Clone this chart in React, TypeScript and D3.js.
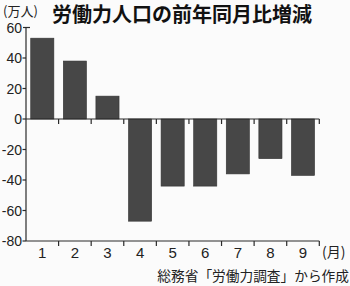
import React from "react";
import * as d3 from "d3";

const months = ["1", "2", "3", "4", "5", "6", "7", "8", "9"];
const values = [53, 38, 15, -67, -44, -44, -36, -26, -37];
const yTicks = [60, 40, 20, 0, -20, -40, -60, -80];
const title = "労働力人口の前年同月比増減";
const unitLabel = "(万人)";
const monthUnit = "(月)";
const source = "総務省「労働力調査」から作成";

const W = 350;
const H = 286;

export default function App() {
  const x = d3.scaleBand<string>().domain(months).range([26, 319.3]).paddingInner(0.29).paddingOuter(0.145);
  const y = d3.scaleLinear().domain([-80, 60]).range([241, 27.5]);
  const step = x.step();
  const x0 = 26;
  const boundaries = d3.range(1, months.length + 1).map((k) => x0 + k * step);
  const numFont = "'Liberation Sans', Arial, sans-serif";
  const jpFont = "'Noto Sans CJK JP', sans-serif";
  const axisColor = "#2a2a2a";
  return (
    <svg width={W} height={H} style={{ position: "absolute", left: 0, top: 0, background: "#fbfbfb" }}>
      <rect x={0} y={0} width={W} height={H} fill="#fbfbfb" />
      {/* title */}
      <text x={3} y={16} fontFamily={jpFont} fontSize={13} fill="#222">{unitLabel}</text>
      <text x={52} y={21.5} fontFamily={jpFont} fontSize={20} fontWeight={700} fill="#111">{title}</text>
      {/* bars */}
      {values.map((v, i) => (
        <rect
          key={i}
          x={x(months[i])}
          y={Math.min(y(v), y(0))}
          width={x.bandwidth()}
          height={Math.abs(y(v) - y(0))}
          fill="#474747"
          stroke="#333"
          strokeWidth={0.6}
        />
      ))}
      {/* y axis */}
      <line x1={26} x2={26} y1={y(60)} y2={y(-80)} stroke={axisColor} strokeWidth={1.2} />
      <line x1={23} x2={30} y1={y(60)} y2={y(60)} stroke={axisColor} strokeWidth={1.2} />
      {yTicks.map((t) => (
        <g key={t}>
          {t !== 60 && <line x1={22.5} x2={26} y1={y(t)} y2={y(t)} stroke={axisColor} strokeWidth={1.2} />}
          <text x={22} y={y(t) + 5} textAnchor="end" fontFamily={numFont} fontSize={14} fill="#222">
            {t}
          </text>
        </g>
      ))}
      {/* zero line */}
      <line x1={26} x2={319.3} y1={y(0)} y2={y(0)} stroke={axisColor} strokeWidth={1.2} />
      {boundaries.map((bx, i) => (
        <line key={"z" + i} x1={bx} x2={bx} y1={y(0)} y2={y(0) + 5} stroke={axisColor} strokeWidth={1.2} />
      ))}
      {/* bottom axis */}
      <line x1={26} x2={319.3} y1={y(-80)} y2={y(-80)} stroke={axisColor} strokeWidth={1.2} />
      {boundaries.map((bx, i) => (
        <line key={"b" + i} x1={bx} x2={bx} y1={y(-80)} y2={y(-80) + 5} stroke={axisColor} strokeWidth={1.2} />
      ))}
      {months.map((m) => (
        <text key={m} x={(x(m) as number) + x.bandwidth() / 2} y={258} textAnchor="middle" fontFamily={numFont} fontSize={15} fill="#222">
          {m}
        </text>
      ))}
      <text x={322} y={257} fontFamily={jpFont} fontSize={14} fill="#222">{monthUnit}</text>
      <text x={349} y={281} textAnchor="end" fontFamily={jpFont} fontSize={13.7} fill="#222">{source}</text>
    </svg>
  );
}
